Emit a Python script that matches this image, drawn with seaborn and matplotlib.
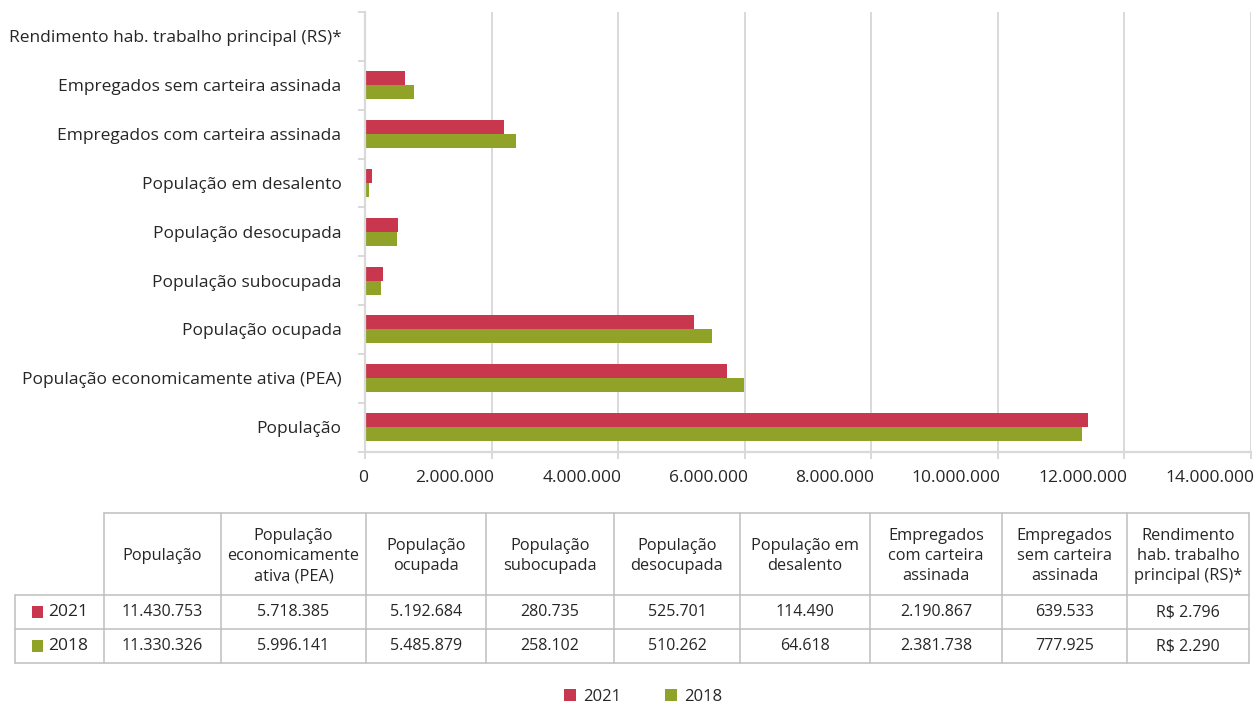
import numpy as np
import pandas as pd
import seaborn as sns
import matplotlib.pyplot as plt
import matplotlib.transforms as mtransforms
from matplotlib.patches import Rectangle
from matplotlib.lines import Line2D

# ---- data -------------------------------------------------------------
categories = [
    "População",
    "População economicamente ativa (PEA)",
    "População ocupada",
    "População subocupada",
    "População desocupada",
    "População em desalento",
    "Empregados com carteira assinada",
    "Empregados sem carteira assinada",
    "Rendimento hab. trabalho principal (RS)*",
]
table_headers = [
    "População",
    "População\neconomicamente\nativa (PEA)",
    "População\nocupada",
    "População\nsubocupada",
    "População\ndesocupada",
    "População em\ndesalento",
    "Empregados\ncom carteira\nassinada",
    "Empregados\nsem carteira\nassinada",
    "Rendimento\nhab. trabalho\nprincipal (RS)*",
]
years = ["2021", "2018"]
values_2021 = [11430753, 5718385, 5192684, 280735, 525701, 114490, 2190867, 639533, 2796]
values_2018 = [11330326, 5996141, 5485879, 258102, 510262, 64618, 2381738, 777925, 2290]
currency_categories = ["Rendimento hab. trabalho principal (RS)*"]
x_ticks = [0, 2000000, 4000000, 6000000, 8000000, 10000000, 12000000, 14000000]

colors = {"2021": "#C8374D", "2018": "#90A328"}
TEXT = "#262626"
GRID = "#D9D9D9"
BORDER = "#BFBFBF"


def fmt_num(v):
    return f"{v:,.0f}".replace(",", ".")


def fmt_cell(cat, v):
    return ("R$ " + fmt_num(v)) if cat in currency_categories else fmt_num(v)


df = pd.DataFrame({
    "categoria": categories * 2,
    "ano": [years[0]] * len(categories) + [years[1]] * len(categories),
    "valor": values_2021 + values_2018,
})

# ---- figure -----------------------------------------------------------
sns.set_theme(style="white")
plt.rcParams["font.family"] = ["Open Sans", "DejaVu Sans"]
plt.rcParams["text.color"] = TEXT

W, H = 1259, 703
fig = plt.figure(figsize=(W / 100, H / 100), dpi=100)
ax_top, ax_bottom = 12, 451.5
ax = fig.add_axes([365 / W, 1 - ax_bottom / H, (1251 - 365) / W, (ax_bottom - ax_top) / H])

sns.barplot(
    data=df, y="categoria", x="valor", hue="ano",
    order=categories[::-1], hue_order=years, palette=colors,
    width=0.57, saturation=1, orient="h", legend=False, linewidth=0, ax=ax,
)

ax.set_xlim(0, x_ticks[-1])
ax.set_ylim(len(categories) - 0.5, -0.5)
ax.set_xlabel("")
ax.set_ylabel("")
ax.set_axisbelow(True)
ax.grid(axis="x", color=GRID, linewidth=1.4)
ax.grid(axis="y", visible=False)
for side in ("top", "right"):
    ax.spines[side].set_visible(False)
for side in ("left", "bottom"):
    ax.spines[side].set_color(GRID)
    ax.spines[side].set_linewidth(1.6)

# category ticks sit on the boundaries, labels at the centres
ax.set_yticks(range(len(categories)))
ax.set_yticklabels(categories[::-1], fontsize=12.5, color=TEXT)
ax.tick_params(axis="y", which="major", length=0, pad=17)
ax.set_yticks(np.arange(-0.5, len(categories), 1.0), minor=True)
ax.tick_params(axis="y", which="minor", length=5, width=1.4, color=GRID, left=True)

ax.set_xticks(x_ticks)
ax.set_xticklabels([fmt_num(t) for t in x_ticks], fontsize=12.5, color=TEXT, ha="right")
ax.tick_params(axis="x", which="major", length=5, width=1.4, color=GRID, pad=8, bottom=True)
shift = mtransforms.ScaledTranslation(3 / 100, 0, fig.dpi_scale_trans)
for lab in ax.get_xticklabels():
    lab.set_transform(lab.get_transform() + shift)

# ---- data table ---------------------------------------------------------
tax = fig.add_axes([0, 0, 1, 1])
tax.set_xlim(0, W)
tax.set_ylim(H, 0)
tax.axis("off")

col_edges = [104, 221, 366, 486, 614, 740, 870, 1002, 1127, 1249]
row_edges = [513, 595, 629, 663]
label_left = 15
lw = 1.1


def hline(y, x0, x1):
    tax.add_line(Line2D([x0, x1], [y, y], color=BORDER, lw=lw))


def vline(x, y0, y1):
    tax.add_line(Line2D([x, x], [y0, y1], color=BORDER, lw=lw))


hline(row_edges[0], col_edges[0], col_edges[-1])
for y in row_edges[1:]:
    hline(y, label_left, col_edges[-1])
for x in col_edges:
    vline(x, row_edges[0], row_edges[-1])
vline(label_left, row_edges[1], row_edges[-1])

centers = [(a + b) / 2 for a, b in zip(col_edges[:-1], col_edges[1:])]
head_y = (row_edges[0] + row_edges[1]) / 2 + 2
for cx, head in zip(centers, table_headers):
    tax.text(cx, head_y, head, ha="center", va="center", fontsize=11.8,
             color=TEXT, linespacing=1.35)

for r, (yr, vals) in enumerate(zip(years, [values_2021, values_2018])):
    cy = (row_edges[r + 1] + row_edges[r + 2]) / 2
    tax.add_patch(Rectangle((32, cy - 6), 11, 12, color=colors[yr], lw=0))
    tax.text(48, cy, yr, ha="left", va="center", fontsize=12.5, color=TEXT)
    for cx, cat, v in zip(centers, categories, vals):
        tax.text(cx, cy, fmt_cell(cat, v), ha="center", va="center",
                 fontsize=11.5, color=TEXT)

# ---- legend -----------------------------------------------------------
handles = [Rectangle((0, 0), 1, 1, color=colors[y], lw=0) for y in years]
fig.legend(
    handles, years, loc="center", bbox_to_anchor=(643 / W, 1 - 697 / H),
    ncol=2, frameon=False, fontsize=12, handlelength=0.72, handleheight=0.72,
    handletextpad=0.45, columnspacing=2.6,
)

fig.savefig("out.png", dpi=100)
